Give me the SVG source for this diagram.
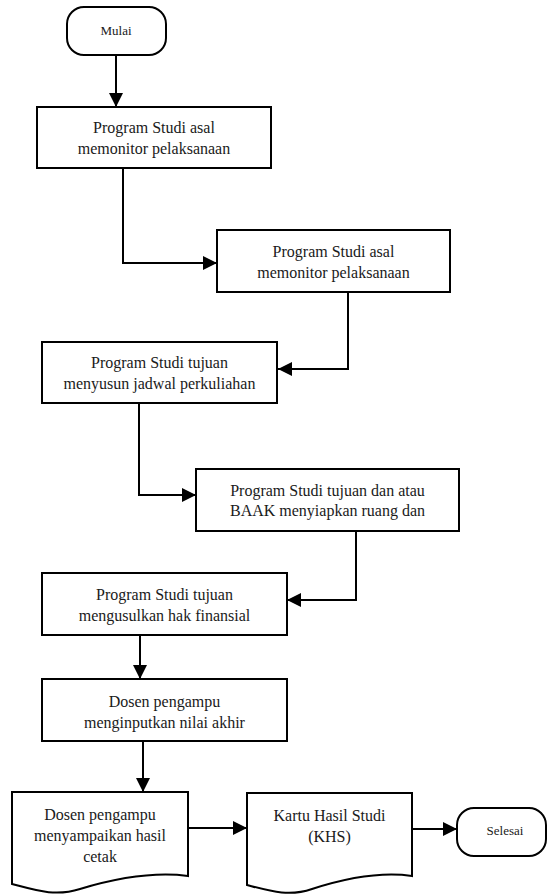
<svg xmlns="http://www.w3.org/2000/svg" width="547" height="895" viewBox="0 0 547 895">
<style>
.box{fill:#fff;stroke:#000;stroke-width:2}
.t,.ts{font-family:'Liberation Serif','Times New Roman',Tinos,'Noto Serif','DejaVu Serif',FreeSerif,'Nimbus Roman','TeX Gyre Termes',Times,serif;fill:#1a1a1a;text-anchor:middle}
.t{font-size:16px}
.ts{font-size:13px}
.c{fill:none;stroke:#000;stroke-width:2;marker-end:url(#ah)}
</style>
<defs>
<marker id="ah" markerUnits="userSpaceOnUse" markerWidth="15" markerHeight="15" refX="14" refY="7" orient="auto" viewBox="0 0 15 15">
<path d="M0,0 L14,7 L0,14 Z" fill="#000"/>
</marker>
</defs>
<rect width="547" height="895" fill="#fff"/>
<g id="connectors">
<path class="c" d="M116,55 V107"/>
<path class="c" d="M123,168 V263 H217"/>
<path class="c" d="M348,292 V369 H278"/>
<path class="c" d="M139,403 V495 H196"/>
<path class="c" d="M356,531 V600 H287"/>
<path class="c" d="M140,635 V679"/>
<path class="c" d="M143,741 V792"/>
<path class="c" d="M188,828 H247"/>
<path class="c" d="M412,829 H457"/>
</g>
<g id="mulai">
<rect class="box" x="67" y="7" width="99" height="48" rx="17"/>
<text class="ts" x="116" y="35">Mulai</text>
</g>
<g id="n1">
<rect class="box" x="37" y="107" width="234" height="61"/>
<text class="t" x="154" y="133">Program Studi asal</text>
<text class="t" x="154" y="154">memonitor pelaksanaan</text>
</g>
<g id="n2">
<rect class="box" x="217" y="230" width="233" height="62"/>
<text class="t" x="333.5" y="256.5">Program Studi asal</text>
<text class="t" x="333.5" y="277.5">memonitor pelaksanaan</text>
</g>
<g id="n3">
<rect class="box" x="42" y="342" width="235" height="61"/>
<text class="t" x="159.5" y="368">Program Studi tujuan</text>
<text class="t" x="159.5" y="389">menyusun jadwal perkuliahan</text>
</g>
<g id="n4">
<rect class="box" x="196" y="469" width="263" height="62"/>
<text class="t" x="327.5" y="496">Program Studi tujuan dan atau</text>
<text class="t" x="327.5" y="516">BAAK menyiapkan ruang dan</text>
</g>
<g id="n5">
<rect class="box" x="42" y="573" width="245" height="62"/>
<text class="t" x="164.5" y="600">Program Studi tujuan</text>
<text class="t" x="164.5" y="620.5">mengusulkan hak finansial</text>
</g>
<g id="n6">
<rect class="box" x="42" y="679" width="245" height="62"/>
<text class="t" x="164.5" y="706.5">Dosen pengampu</text>
<text class="t" x="164.5" y="727.5">menginputkan nilai akhir</text>
</g>
<g id="d1">
<path class="box" d="M12,792 H188 V876 C150,871 110,880 80,889 C55,897 35,890 12,884 Z"/>
<text class="t" x="100" y="820">Dosen pengampu</text>
<text class="t" x="100" y="841">menyampaikan hasil</text>
<text class="t" x="100" y="862">cetak</text>
</g>
<g id="d2">
<path class="box" d="M247,793 H412 V876 C378,871 340,880 312,889 C289,897 270,891 247,885 Z"/>
<text class="t" x="329.5" y="821">Kartu Hasil Studi</text>
<text class="t" x="329.5" y="842">(KHS)</text>
</g>
<g id="selesai">
<rect class="box" x="457" y="808" width="89" height="48" rx="17"/>
<text class="ts" x="505" y="835">Selesai</text>
</g>
</svg>
